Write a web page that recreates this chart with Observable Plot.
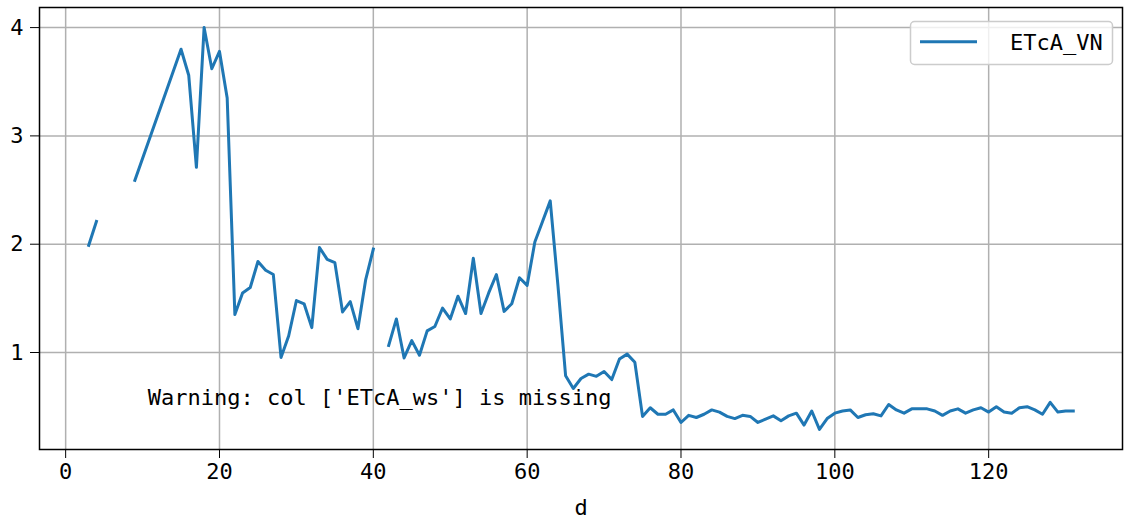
<!DOCTYPE html>
<html>
<head>
<meta charset="utf-8">
<script src="https://cdn.jsdelivr.net/npm/d3@7"></script>
<script src="https://cdn.jsdelivr.net/npm/@observablehq/plot@0.6"></script>
<style>
  html, body { margin: 0; padding: 0; background: #fff; }
  #chart { width: 1124px; height: 520px; }
</style>
</head>
<body>
<div id="chart"></div>
<script>
const days = [3,4,5,9,15,16,17,18,19,20,21,22,23,24,25,26,27,28,29,30,31,32,33,34,35,36,37,38,39,40,41,42,43,44,45,46,47,48,49,50,51,52,53,54,55,56,57,58,59,60,61,62,63,64,65,66,67,68,69,70,71,72,73,74,75,76,77,78,79,80,81,82,83,84,85,86,87,88,89,90,91,92,93,94,95,96,97,98,99,100,101,102,103,104,105,106,107,108,109,110,111,112,113,114,115,116,117,118,119,120,121,122,123,124,125,126,127,128,129,130,131];
const etcaVN = [1.99,2.21,null,2.59,3.80,3.56,2.71,4.00,3.62,3.78,3.35,1.35,1.55,1.60,1.84,1.76,1.72,0.955,1.155,1.48,1.45,1.23,1.97,1.86,1.83,1.375,1.47,1.22,1.67,1.955,null,1.065,1.31,0.95,1.11,0.975,1.20,1.24,1.41,1.31,1.52,1.36,1.87,1.36,1.55,1.72,1.38,1.45,1.69,1.62,2.02,2.21,2.40,1.62,0.785,0.668,0.76,0.80,0.78,0.825,0.75,0.94,0.985,0.91,0.41,0.49,0.43,0.43,0.47,0.354,0.42,0.40,0.43,0.47,0.45,0.41,0.39,0.42,0.41,0.354,0.385,0.415,0.37,0.415,0.44,0.33,0.46,0.29,0.39,0.44,0.46,0.47,0.40,0.425,0.435,0.415,0.52,0.47,0.44,0.48,0.48,0.48,0.46,0.42,0.46,0.48,0.44,0.47,0.49,0.45,0.50,0.45,0.44,0.49,0.50,0.47,0.43,0.54,0.45,0.46,0.46];
const xTicks = [0,20,40,60,80,100,120];
const yTicks = [1,2,3,4];
const seriesName = "ETcA_VN";
const xLabel = "d";
const warningText = "Warning: col ['ETcA_ws'] is missing";

const data = days.map((d, i) => ({d, v: etcaVN[i]}));

function pad(ext, f = 0.05) { const r = ext[1] - ext[0]; return [ext[0] - r * f, ext[1] + r * f]; }
const xDomain = pad(d3.extent(days));
const yDomain = pad(d3.extent(etcaVN.filter(v => v != null)));

const W = 1124, H = 520;
const mL = 39, mR = 2, mT = 7, mB = 71;
const FONT = "'DejaVu Sans Mono', monospace";
const blue = "#1f77b4";

const plot = Plot.plot({
  width: W, height: H,
  marginLeft: mL, marginRight: mR, marginTop: mT, marginBottom: mB,
  style: { fontFamily: FONT, fontSize: "22px", background: "#fff", color: "#000" },
  x: { domain: xDomain },
  y: { domain: yDomain },
  marks: [
    Plot.gridX(xTicks, { stroke: "#b0b0b0", strokeOpacity: 1, strokeWidth: 1.5 }),
    Plot.gridY(yTicks, { stroke: "#b0b0b0", strokeOpacity: 1, strokeWidth: 1.5 }),
    Plot.line(data, { x: "d", y: "v", stroke: blue, strokeWidth: 3, strokeLinejoin: "round", strokeLinecap: "square" }),
    Plot.text([warningText], {
      text: d => d, frameAnchor: "bottom-left", textAnchor: "start", lineAnchor: "bottom",
      dx: (W - mL - mR) * 0.1, dy: -(H - mT - mB) * 0.1, fontSize: 22, fill: "#000"
    }),
    Plot.frame({ stroke: "#000", strokeWidth: 1.5 }),
    Plot.axisX({ ticks: xTicks, tickSize: 9, tickPadding: 5, fontSize: 22, tickFormat: d3.format("d"),
      label: xLabel, labelAnchor: "center", labelArrow: "none", labelOffset: 65 }),
    Plot.axisY({ ticks: yTicks, tickSize: 9, tickPadding: 7, fontSize: 22, tickFormat: d3.format("d"), label: null })
  ]
});

document.getElementById("chart").appendChild(plot);

// legend (matplotlib-style, upper right)
const svg = d3.select(plot);
const lg = svg.append("g");
lg.append("rect").attr("x", 910.5).attr("y", 21.5).attr("width", 202).attr("height", 43)
  .attr("rx", 4).attr("fill", "#fff").attr("fill-opacity", 0.8).attr("stroke", "#cccccc").attr("stroke-width", 1.5);
lg.append("line").attr("x1", 920).attr("x2", 977).attr("y1", 41.7).attr("y2", 41.7)
  .attr("stroke", blue).attr("stroke-width", 3);
lg.append("text").attr("x", 1010).attr("y", 42.5).attr("dominant-baseline", "central")
  .attr("text-anchor", "start")
  .attr("font-family", FONT).attr("font-size", 22).attr("fill", "#000").text(seriesName);
</script>
</body>
</html>
